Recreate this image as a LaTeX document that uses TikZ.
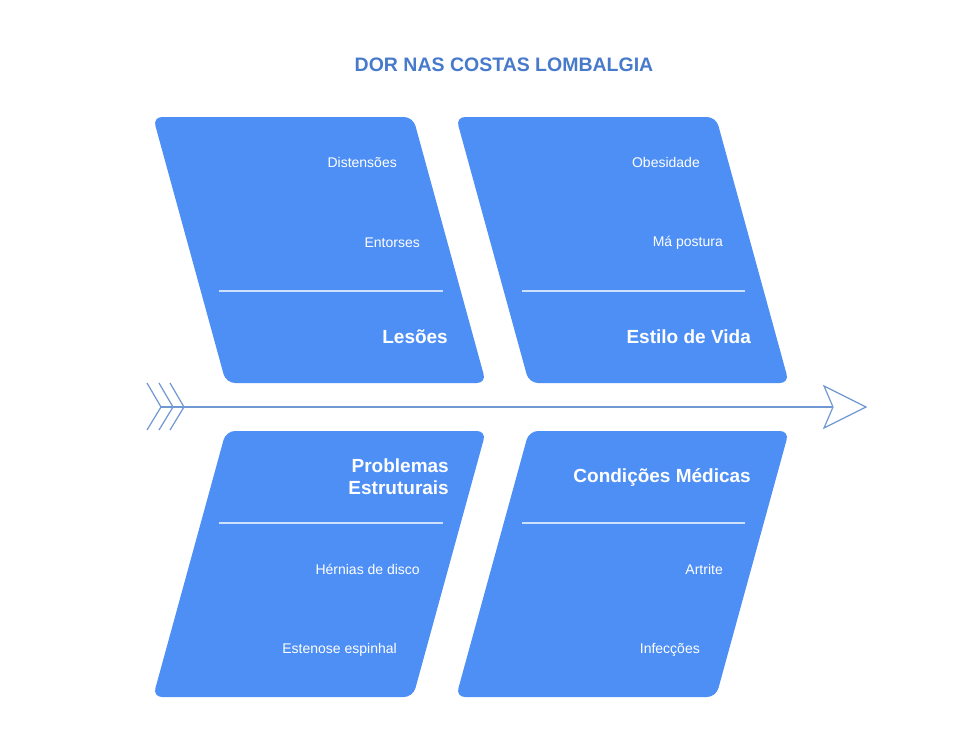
\documentclass[tikz,border=0pt]{standalone}
\usepackage{fontspec}
\setmainfont{Liberation Sans}
\definecolor{boxblue}{RGB}{78,143,246}
\definecolor{titleblue}{RGB}{72,122,204}
\definecolor{sepcol}{RGB}{205,224,252}
\definecolor{axiscol}{RGB}{112,152,210}
\begin{document}
\begin{tikzpicture}[x=1pt,y=-1pt,
  causebox/.style={fill=boxblue,rounded corners=9pt},
  sepline/.style={draw=sepcol,line width=1.4pt},
  item/.style={text=white,font=\fontsize{14}{16}\selectfont,anchor=east,inner sep=0pt},
  head/.style={text=white,font=\bfseries\fontsize{19}{23}\selectfont,anchor=east,inner sep=0pt,align=right},
  axisline/.style={draw=axiscol,line width=1.2pt,line join=miter}]
\useasboundingbox (0,0) rectangle (973,733);
\fill[white] (0,0) rectangle (973,733);
% title
\node[text=titleblue,font=\bfseries\fontsize{19.5}{22}\selectfont,inner sep=0pt] (title) at (504,65) {DOR NAS COSTAS LOMBALGIA};
% boxes
\path[causebox] (153,117) -- (413,117) -- (486,383) -- (226,383) -- cycle;
\path[causebox] (456,117) -- (716,117) -- (789,383) -- (529,383) -- cycle;
\path[causebox] (226,431) -- (486,431) -- (413,697) -- (153,697) -- cycle;
\path[causebox] (529,431) -- (789,431) -- (716,697) -- (456,697) -- cycle;
% separators
\draw[sepline] (219,291) -- (443,291);
\draw[sepline] (522,291) -- (745,291);
\draw[sepline] (219,523) -- (443,523);
\draw[sepline] (522,523) -- (745,523);
% texts top-left
\node[item] (t1) at (397,162) {Distensões};
\node[item] (t2) at (420,243) {Entorses};
\node[head] (h1) at (448,337) {Lesões};
% top-right
\node[item] (t3) at (700,162) {Obesidade};
\node[item] (t4) at (723,243) {Má postura};
\node[head] (h2) at (751,337) {Estilo de Vida};
% bottom-left
\node[head] (h3) at (449,477) {Problemas\\[-1pt]Estruturais};
\node[item] (t5) at (420,569) {Hérnias de disco};
\node[item] (t6) at (397,650) {Estenose espinhal};
% bottom-right
\node[head] (h4) at (751,477) {Condições Médicas};
\node[item] (t7) at (723,569) {Artrite};
\node[item] (t8) at (700,650) {Infecções};
% fishbone axis
\coordinate (tail) at (161,407);
\coordinate (notch) at (833,407);
\draw[axisline] (147,383) -- (tail) -- (147,430);
\draw[axisline] (159,383) -- (173,407) -- (159,430);
\draw[axisline] (170,383) -- (184,407) -- (170,430);
\draw[axisline] (tail) -- (notch);
\draw[axisline,fill=white] (notch) -- (824,386) -- (866,407) -- (824,428) -- cycle;
\end{tikzpicture}
\end{document}
